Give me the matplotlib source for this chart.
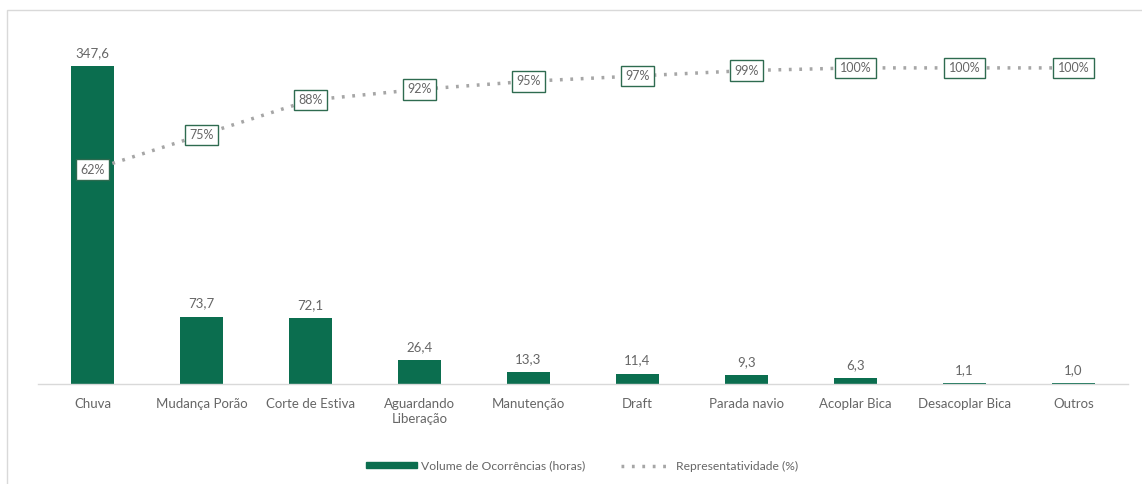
import matplotlib
matplotlib.use("Agg")
import matplotlib.pyplot as plt
from matplotlib.patches import Rectangle, Patch
from matplotlib.lines import Line2D

categories = ["Chuva", "Mudança Porão", "Corte de Estiva", "Aguardando\nLiberação",
              "Manutenção", "Draft", "Parada navio", "Acoplar Bica",
              "Desacoplar Bica", "Outros"]
volume = [347.6, 73.7, 72.1, 26.4, 13.3, 11.4, 9.3, 6.3, 1.1, 1.0]
volume_labels = ["347,6", "73,7", "72,1", "26,4", "13,3", "11,4", "9,3", "6,3", "1,1", "1,0"]
cumulative = [62, 75, 88, 92, 95, 97, 99, 100, 100, 100]
cumulative_labels = ["62%", "75%", "88%", "92%", "95%", "97%", "99%", "100%", "100%", "100%"]

plt.rcParams['font.family'] = ['Lato', 'DejaVu Sans']
GREEN = '#0B6E4F'
GRAY = '#666666'
DOTS = (0, (0.8, 2.2))

W, H = 1142, 484
fig = plt.figure(figsize=(W / 100, H / 100), dpi=100)
fig.patch.set_facecolor('white')

# outer frame (cropped at right/bottom)
fig.add_artist(Rectangle((7 / W, -0.1), 1.2, (H - 10) / H + 0.1,
                         transform=fig.transFigure, fill=False,
                         edgecolor='#d9d9d9', linewidth=1.0))

ax = fig.add_axes([38 / W, 100 / H, (1128 - 38) / W, 370 / H])
x = list(range(len(categories)))
ax.bar(x, volume, width=0.4, color=GREEN, zorder=2)
ax.set_ylim(0, 404)
ax.set_xlim(-0.5, len(categories) - 0.5)
for s in ['top', 'right', 'left']:
    ax.spines[s].set_visible(False)
ax.spines['bottom'].set_color('#d9d9d9')
ax.spines['bottom'].set_linewidth(1.0)
ax.set_yticks([])
ax.set_xticks(x)
ax.set_xticklabels([""] * len(categories))
ax.tick_params(axis='x', length=0)
for xi, cat in zip(x, categories):
    ax.annotate(cat, (xi, 0), xytext=(0, -10), textcoords='offset points',
                ha='center', va='top', multialignment='center',
                fontsize=9.5, color=GRAY, linespacing=1.3, annotation_clip=False)

for xi, v, lab in zip(x, volume, volume_labels):
    ax.annotate(lab, (xi, v), xytext=(0, 5), textcoords='offset points',
                ha='center', va='bottom', fontsize=9.5, color=GRAY)

ax2 = ax.twinx()
ax2.set_ylim(-17.9, 120.1)
ax2.axis('off')
ax2.plot(x, cumulative, linestyle=DOTS, color='#a6a6a6', linewidth=2.5,
         zorder=3)
for xi, c, lab in zip(x, cumulative, cumulative_labels):
    ax2.text(xi, c, lab, ha='center', va='center', fontsize=9, color=GRAY, zorder=4,
             bbox=dict(boxstyle='square,pad=0.35', facecolor='white',
                       edgecolor='#2e6b50', linewidth=1.0))

handles = [Patch(facecolor=GREEN, edgecolor=GREEN),
           Line2D([0], [0], linestyle=DOTS, color='#a6a6a6', linewidth=2.5)]
leg = fig.legend(handles, ["Volume de Ocorrências (horas)", "Representatividade (%)"],
                 loc='center', bbox_to_anchor=(582 / W, 1 - 466 / H), ncol=2,
                 frameon=False, fontsize=8.7, handlelength=4.2, handleheight=0.45,
                 columnspacing=3.0, handletextpad=0.3)
for t in leg.get_texts():
    t.set_color(GRAY)

fig.savefig("out.png", dpi=100, facecolor='white')
